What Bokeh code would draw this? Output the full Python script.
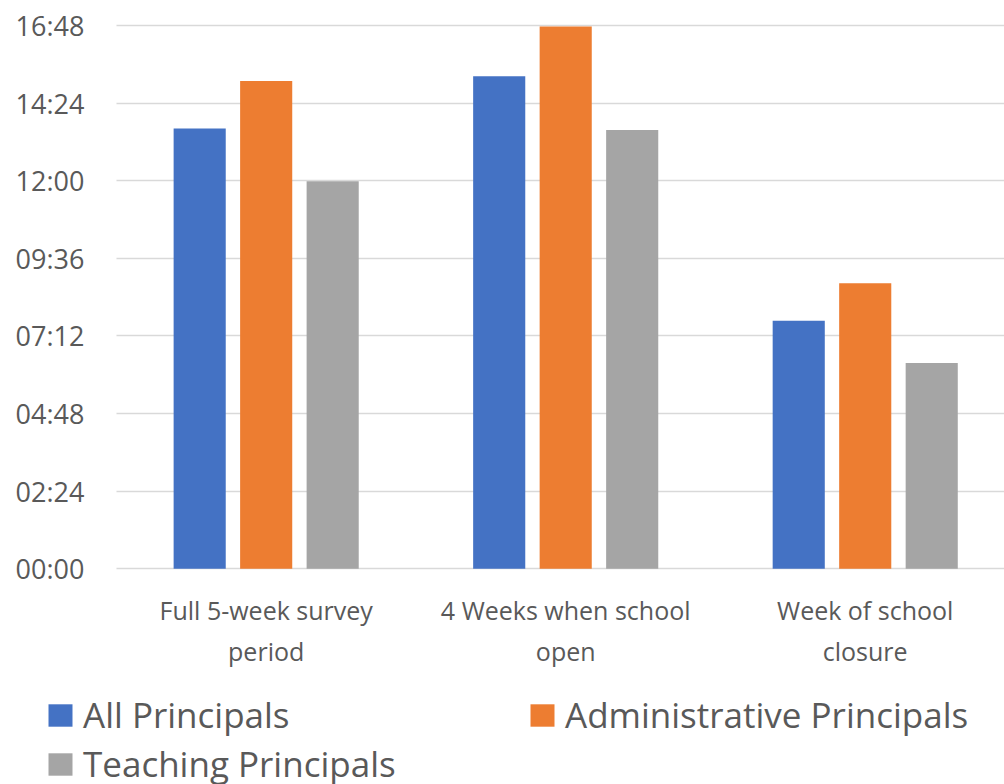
from bokeh.plotting import figure
from bokeh.models import (ColumnDataSource, FixedTicker, CustomJSTickFormatter,
                          Legend, LegendItem, Range1d)
from bokeh.transform import dodge
from bokeh.embed import file_html
from bokeh.resources import INLINE

# Average working time per week, in minutes (shown as HH:MM)
periods = ["Full 5-week survey\nperiod", "4 Weeks when school\nopen", "Week of school\nclosure"]
all_principals = [817, 914, 460]
administrative_principals = [905, 1006, 530]
teaching_principals = [719, 814, 382]
series_names = ["All Principals", "Administrative Principals", "Teaching Principals"]
series_colors = ["#4472C4", "#ED7D31", "#A5A5A5"]
y_ticks = [0, 144, 288, 432, 576, 720, 864, 1008]

positions = [i + 0.5 for i in range(len(periods))]
source = ColumnDataSource(dict(
    x=positions,
    all=all_principals,
    admin=administrative_principals,
    teach=teaching_principals,
))

FONT = "Open Sans"
TEXT_COLOR = "#595959"

# The plotting frame fills the whole canvas: the axes sit at x=0 / y=0 inside it,
# leaving room for the tick labels on the left and the legend underneath.
p = figure(width=1004, height=784, output_backend="svg", toolbar_location=None,
           x_range=Range1d(-0.387, 2.965), y_range=Range1d(-400.2, 1054.4),
           min_border=0, min_border_left=0, min_border_right=0,
           min_border_top=0, min_border_bottom=0)
p.outline_line_color = None
p.background_fill_color = "white"

bar_w = 0.174
offset = 0.222
columns = ["all", "admin", "teach"]
shifts = [-offset, 0, offset]
bars = {}
for name, col, shift, color in zip(series_names, columns, shifts, series_colors):
    bars[name] = p.vbar(x=dodge("x", shift, range=p.x_range), top=col, width=bar_w,
                        source=source, fill_color=color, line_color=None)

# y axis: hours:minutes labels
p.yaxis.fixed_location = 0
p.yaxis.ticker = FixedTicker(ticks=y_ticks)
p.yaxis.formatter = CustomJSTickFormatter(code="""
    const h = Math.floor(tick / 60);
    const m = Math.round(tick - h * 60);
    return String(h).padStart(2, '0') + ':' + String(m).padStart(2, '0');
""")
p.yaxis.axis_line_color = None
p.yaxis.major_tick_line_color = None
p.yaxis.minor_tick_line_color = None
p.yaxis.major_tick_out = 0
p.yaxis.major_label_standoff = 32
p.yaxis.major_label_text_font = FONT
p.yaxis.major_label_text_font_size = "27px"
p.yaxis.major_label_text_color = TEXT_COLOR

# x axis: period labels under each group
p.xaxis.fixed_location = 0
p.xaxis.ticker = FixedTicker(ticks=positions)
p.xaxis.major_label_overrides = {pos: lab for pos, lab in zip(positions, periods)}
p.xaxis.axis_line_color = None
p.xaxis.major_tick_line_color = None
p.xaxis.minor_tick_line_color = None
p.xaxis.major_tick_out = 0
p.xaxis.major_label_standoff = 24
p.xaxis.major_label_text_font = FONT
p.xaxis.major_label_text_font_size = "25px"
p.xaxis.major_label_text_color = TEXT_COLOR

p.xgrid.grid_line_color = None
p.ygrid.ticker = p.yaxis[0].ticker
p.ygrid.cross_bounds = (0, 2.965)
p.ygrid.grid_line_color = "#D9D9D9"
p.ygrid.grid_line_width = 1.4

# two legend columns: All / Teaching on the left, Administrative on the right
legend_order = [series_names[0], series_names[2], series_names[1]]
legend = Legend(items=[LegendItem(label=name, renderers=[bars[name]])
                       for name in legend_order],
                ncols=2, location=(45, -3))
legend.border_line_color = None
legend.background_fill_alpha = 0
legend.padding = 0
legend.margin = 0
legend.glyph_width = 30
legend.glyph_height = 28
legend.label_standoff = 8
legend.label_width = 442
legend.spacing = 2
legend.label_text_font = FONT
legend.label_text_font_size = "35px"
legend.label_text_color = TEXT_COLOR
p.add_layout(legend, "center")

open("out.html", "w").write(file_html(p, INLINE))
